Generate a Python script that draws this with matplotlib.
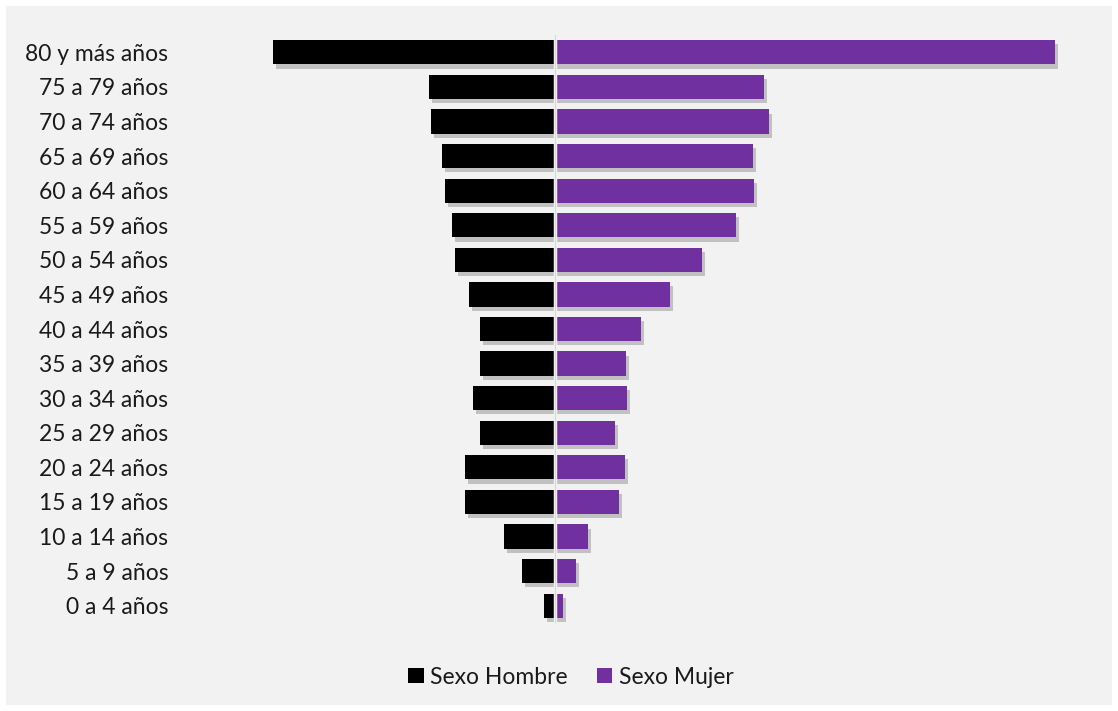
import matplotlib
matplotlib.use("Agg")
import matplotlib.pyplot as plt
import matplotlib.patheffects as pe
from matplotlib.patches import Rectangle, Patch

categories = ["0 a 4 años", "5 a 9 años", "10 a 14 años", "15 a 19 años", "20 a 24 años",
              "25 a 29 años", "30 a 34 años", "35 a 39 años", "40 a 44 años", "45 a 49 años",
              "50 a 54 años", "55 a 59 años", "60 a 64 años", "65 a 69 años", "70 a 74 años",
              "75 a 79 años", "80 y más años"]
hombre = [11, 33, 51, 90, 90, 75, 82, 75, 75, 86, 100, 103, 110, 113, 124, 126, 282]
mujer = [8, 21, 33, 64, 70, 60, 72, 71, 86, 115, 147, 181, 199, 198, 214, 209, 500]

plt.rcParams['font.family'] = ['Lato', 'DejaVu Sans']

W, H = 1118, 711
fig = plt.figure(figsize=(W / 100, H / 100), dpi=100, facecolor='white')
fig.patches.append(Rectangle((6 / W, 6 / H), 1106 / W, 699 / H, transform=fig.transFigure,
                             facecolor='#f2f2f2', edgecolor='none', zorder=-10))

ax = fig.add_axes([180 / W, (711 - 623) / H, 900 / W, 588 / H])
ax.set_facecolor('none')
y = list(range(len(categories)))
shadow = [pe.SimplePatchShadow(offset=(2, -3), shadow_rgbFace='#666666', alpha=0.35), pe.Normal()]
bh = ax.barh(y, [-v for v in hombre], height=0.7, color='#000000', label='Sexo Hombre')
bm = ax.barh(y, mujer, height=0.7, color='#7030a0', label='Sexo Mujer')
for b in list(bh) + list(bm):
    b.set_path_effects(shadow)
ax.axvline(0, color='#f2f2f2', lw=2.5, zorder=5)
ax.axvline(0, color='#d9d9d9', lw=0.8, zorder=6)

ax.set_xlim(-375, 525)
ax.set_ylim(-0.5, len(categories) - 0.5)
ax.set_yticks(y)
ax.set_yticklabels(categories, fontsize=16.5, color='#1a1a1a')
ax.tick_params(axis='y', length=0, pad=8.5)
ax.set_xticks([])
for s in ax.spines.values():
    s.set_visible(False)

handles = [Patch(facecolor='#000000', label='Sexo Hombre'),
           Patch(facecolor='#7030a0', label='Sexo Mujer')]
fig.legend(handles=handles, loc='center', bbox_to_anchor=(571 / W, 1 - 677 / H), ncol=2,
           frameon=False, fontsize=16.5, handlelength=0.68, handleheight=0.68,
           handletextpad=0.3, columnspacing=1.25, labelcolor='#1a1a1a')

fig.savefig('out.png', dpi=100, facecolor='white')
